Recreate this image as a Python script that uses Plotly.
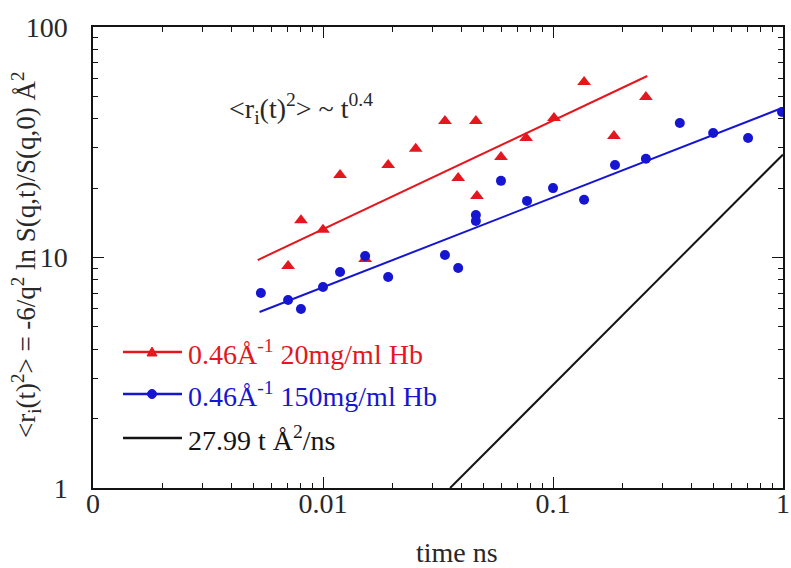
import plotly.graph_objects as go

# ---- data ----
red_t = [0.00705, 0.00802, 0.0100, 0.01186, 0.01525, 0.0192, 0.0253, 0.0339, 0.0387,
         0.0462, 0.0467, 0.0594, 0.0764, 0.101, 0.1365, 0.184, 0.2535]
red_y = [9.18, 14.5, 13.2, 22.8, 9.85, 25.2, 29.6, 39.1, 22.1,
         39.1, 18.5, 27.3, 33.0, 40.3, 57.7, 33.7, 49.7]

blue_t = [0.00537, 0.00705, 0.00802, 0.0100, 0.01186, 0.01525, 0.0192, 0.0339, 0.0387,
          0.0462, 0.0462, 0.0594, 0.0771, 0.100, 0.1365, 0.186, 0.2535, 0.356, 0.497,
          0.705, 0.99]
blue_y = [7.01, 6.54, 5.98, 7.45, 8.65, 10.15, 8.23, 10.25, 9.0,
          15.3, 14.4, 21.5, 17.6, 20.0, 17.8, 25.2, 26.8, 38.3, 34.7,
          33.0, 42.8]

red_fit_t = [0.0052, 0.257]
red_fit_y = [9.75, 61.3]
blue_fit_t = [0.0053, 0.99]
blue_fit_y = [5.80, 44.5]
diff_t = [0.0357, 1.0]
diff_y = [1.0, 27.99]

x_tickvals = [0.001, 0.01, 0.1, 1]
x_ticktext = ["0", "0.01", "0.1", "1"]
y_tickvals = [1, 10, 100]
y_ticktext = ["1", "10", "100"]

RED = "rgb(228,22,30)"
BLUE = "rgb(22,22,210)"
BLACK = "rgb(20,20,20)"
TXT = "rgb(40,40,40)"
FONT = "Liberation Serif"

fig = go.Figure()
fig.add_trace(go.Scatter(x=diff_t, y=diff_y, mode="lines",
                         line=dict(color=BLACK, width=2), showlegend=False))
fig.add_trace(go.Scatter(x=red_fit_t, y=red_fit_y, mode="lines",
                         line=dict(color=RED, width=2), showlegend=False))
fig.add_trace(go.Scatter(x=blue_fit_t, y=blue_fit_y, mode="lines",
                         line=dict(color=BLUE, width=2), showlegend=False))
fig.add_trace(go.Scatter(x=red_t, y=red_y, mode="markers",
                         marker=dict(symbol="triangle-up", size=12, color=RED),
                         showlegend=False))
fig.add_trace(go.Scatter(x=blue_t, y=blue_y, mode="markers",
                         marker=dict(symbol="circle", size=10, color=BLUE),
                         showlegend=False))

minor_x = [m * 10 ** e for e in (-3, -2, -1) for m in range(2, 10)]
minor_y = [m * 10 ** e for e in (0, 1) for m in range(2, 10)]

axis_common = dict(showline=True, linecolor=BLACK, linewidth=1.5, mirror="ticks",
                   ticks="inside", ticklen=11, tickwidth=1.2, tickcolor=BLACK,
                   showgrid=False, zeroline=False,
                   tickfont=dict(family=FONT, size=28, color=TXT),
                   automargin=False)

fig.update_xaxes(type="log", range=[-3, 0], tickmode="array",
                 tickvals=x_tickvals, ticktext=x_ticktext, ticklabelstandoff=-10,
                 minor=dict(tickmode="array", tickvals=minor_x, ticks="inside",
                            ticklen=5, tickwidth=1, tickcolor=BLACK, showgrid=False),
                 **axis_common)
fig.update_yaxes(type="log", range=[0, 2], tickmode="array",
                 tickvals=y_tickvals, ticktext=y_ticktext, ticklabelstandoff=18,
                 minor=dict(tickmode="array", tickvals=minor_y, ticks="inside",
                            ticklen=5, tickwidth=1, tickcolor=BLACK, showgrid=False),
                 **axis_common)

annotations = [
    dict(text="time ns", xref="paper", yref="paper", x=(457 - 93) / 690, y=(488 - 552) / 461,
         xanchor="center", yanchor="middle", showarrow=False,
         font=dict(family=FONT, size=28, color=TXT)),
    dict(text="&lt;r<sub>i</sub>(t)<sup>2</sup>&gt; = -6/q<sup>2</sup> ln S(q,t)/S(q,0) Å<sup>2</sup>",
         xref="paper", yref="paper", x=(26 - 93) / 690, y=(488 - 255) / 461,
         xanchor="center", yanchor="middle", textangle=-90, showarrow=False,
         font=dict(family=FONT, size=27, color=TXT)),
    dict(text="&lt;r<sub>i</sub>(t)<sup>2</sup>&gt; ~ t<sup>0.4</sup>",
         xref="paper", yref="paper", x=(227 - 93) / 690, y=(488 - 108) / 461,
         xanchor="left", yanchor="middle", showarrow=False,
         font=dict(family=FONT, size=28, color=TXT)),
]

# custom legend (inside the plot, lower left)
legend_rows = [
    ("0.46Å<sup>-1</sup> 20mg/ml Hb", RED, "triangle", 352),
    ("0.46Å<sup>-1</sup> 150mg/ml Hb", BLUE, "circle", 394),
    ("27.99 t Å<sup>2</sup>/ns", BLACK, None, 438),
]
shapes = []
px2x = lambda px: (px - 93) / 690
py2y = lambda py: (488 - py) / 461
for label, col, sym, py in legend_rows:
    shapes.append(dict(type="line", xref="paper", yref="paper",
                       x0=px2x(123), x1=px2x(182), y0=py2y(py), y1=py2y(py),
                       line=dict(color=col, width=2.5)))
    cx, cy = 152, py
    if sym == "triangle":
        shapes.append(dict(type="path", xref="paper", yref="paper",
                           path=f"M {px2x(cx-5)} {py2y(cy+4)} L {px2x(cx+5)} {py2y(cy+4)} L {px2x(cx)} {py2y(cy-5)} Z",
                           fillcolor=col, line=dict(color=col, width=1)))
    elif sym == "circle":
        shapes.append(dict(type="circle", xref="paper", yref="paper",
                           x0=px2x(cx-4.5), x1=px2x(cx+4.5), y0=py2y(cy+4.5), y1=py2y(cy-4.5),
                           fillcolor=col, line=dict(color=col, width=1)))
    annotations.append(dict(text=label, xref="paper", yref="paper",
                            x=px2x(186), y=py2y(py), xanchor="left", yanchor="middle",
                            showarrow=False, font=dict(family=FONT, size=28, color=col)))

fig.update_layout(width=791, height=568,
                  margin=dict(l=93, r=8, t=27, b=80),
                  paper_bgcolor="white", plot_bgcolor="white",
                  showlegend=False, annotations=annotations, shapes=shapes)

fig.write_html("out.html")
